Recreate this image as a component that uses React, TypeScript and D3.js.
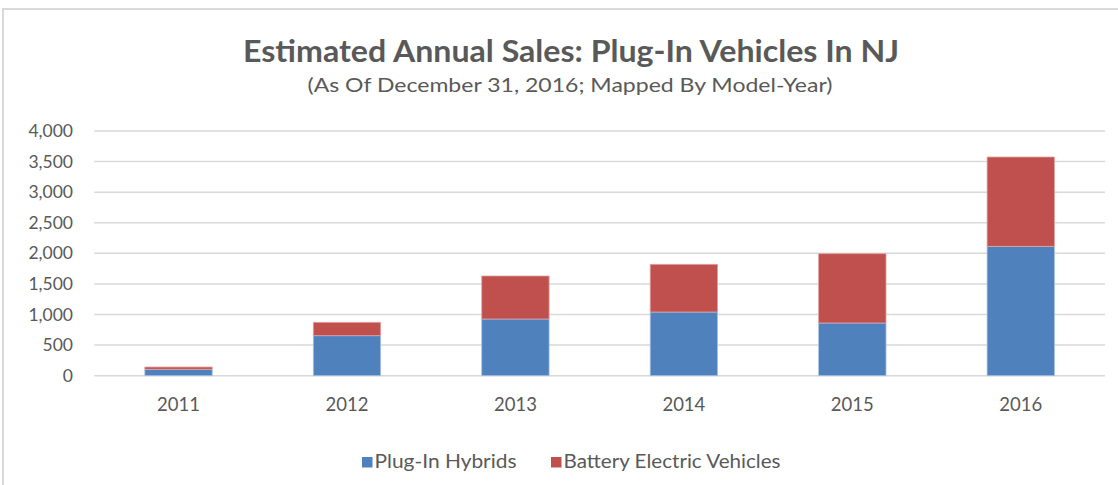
import { useRef, useEffect } from "react";
import * as d3 from "d3";

const years = ["2011", "2012", "2013", "2014", "2015", "2016"];
const plugInHybrids = [105, 654, 927, 1041, 862, 2115];
const batteryElectric = [37, 219, 703, 780, 1132, 1460];
const seriesNames = ["Plug-In Hybrids", "Battery Electric Vehicles"];
const seriesColors = ["#4f81bd", "#c0504d"];
const yTicks = [0, 500, 1000, 1500, 2000, 2500, 3000, 3500, 4000];

export default function App() {
  const svgRef = useRef<SVGSVGElement>(null);

  useEffect(() => {
    if (!svgRef.current) return;
    const svg = d3.select(svgRef.current);
    svg.selectAll("*").remove();
    const width = 1118;
    const height = 485;
    const font = "Lato, 'Open Sans', sans-serif";
    const textColor = "#595959";

    svg.append("rect").attr("width", width).attr("height", height).attr("fill", "white");
    // chart frame (only top and left edges show)
    svg
      .append("path")
      .attr("d", `M3,${height} L3,9 L${width},9`)
      .attr("fill", "none")
      .attr("stroke", "#d9d9d9")
      .attr("stroke-width", 2);

    svg
      .append("text")
      .attr("x", 571)
      .attr("y", 62)
      .attr("text-anchor", "middle")
      .attr("font-family", font)
      .attr("font-weight", "bold")
      .attr("font-size", 30)
      .attr("fill", textColor)
      .attr("textLength", 656)
      .attr("lengthAdjust", "spacingAndGlyphs")
      .text("Estimated Annual Sales: Plug-In Vehicles In NJ");
    svg
      .append("text")
      .attr("x", 570)
      .attr("y", 92)
      .attr("text-anchor", "middle")
      .attr("font-family", font)
      .attr("font-size", 19)
      .attr("fill", textColor)
      .attr("textLength", 525)
      .attr("lengthAdjust", "spacingAndGlyphs")
      .text("(As Of December 31, 2016; Mapped By Model-Year)");

    const x = d3
      .scaleBand()
      .domain(years)
      .range([94.3, 1105])
      .paddingInner(0.6)
      .paddingOuter(0.3);
    const y = d3.scaleLinear().domain([0, 4000]).range([375.7, 131]);

    svg
      .append("g")
      .selectAll("line")
      .data(yTicks)
      .enter()
      .append("line")
      .attr("x1", 94.3)
      .attr("x2", 1105)
      .attr("y1", (d) => y(d))
      .attr("y2", (d) => y(d))
      .attr("stroke", "#d9d9d9")
      .attr("stroke-width", 1.5);

    svg
      .append("g")
      .selectAll("text")
      .data(yTicks)
      .enter()
      .append("text")
      .attr("x", 73)
      .attr("y", (d) => y(d))
      .attr("dy", "0.35em")
      .attr("text-anchor", "end")
      .attr("font-family", font)
      .attr("font-size", 17.5)
      .attr("fill", textColor)
      .text((d) => d3.format(",")(d));

    const rows = years.map((yr, i) => ({
      year: yr,
      phev: plugInHybrids[i],
      bev: batteryElectric[i],
    }));
    const stacked = d3.stack<any>().keys(["phev", "bev"])(rows);

    stacked.forEach((layer, li) => {
      svg
        .append("g")
        .selectAll("rect")
        .data(layer)
        .enter()
        .append("rect")
        .attr("x", (d: any) => x(d.data.year)!)
        .attr("width", x.bandwidth())
        .attr("y", (d) => y(d[1]))
        .attr("height", (d) => y(d[0]) - y(d[1]))
        .attr("fill", seriesColors[li])
        .attr("stroke", li === 0 ? "#a9c2e4" : "#e0a3a2")
        .attr("stroke-width", 0.8);
    });

    svg
      .append("g")
      .selectAll("text")
      .data(years)
      .enter()
      .append("text")
      .attr("x", (d) => x(d)! + x.bandwidth() / 2)
      .attr("y", 405)
      .attr("dy", "0.35em")
      .attr("text-anchor", "middle")
      .attr("font-family", font)
      .attr("font-size", 18.5)
      .attr("fill", textColor)
      .text((d) => d);

    const legendX = [362, 551];
    const legendW = [142, 217];
    seriesNames.forEach((name, i) => {
      svg
        .append("rect")
        .attr("x", legendX[i])
        .attr("y", 457)
        .attr("width", 10.5)
        .attr("height", 10.5)
        .attr("fill", seriesColors[i]);
      svg
        .append("text")
        .attr("x", legendX[i] + 12.5)
        .attr("y", 462)
        .attr("dy", "0.35em")
        .attr("font-family", font)
        .attr("font-size", 18.5)
        .attr("fill", textColor)
        .attr("textLength", legendW[i])
        .attr("lengthAdjust", "spacingAndGlyphs")
        .text(name);
    });
  }, []);

  return (
    <div style={{ position: "absolute", top: 0, left: 0 }}>
      <svg ref={svgRef} width={1118} height={485} style={{ display: "block" }} />
    </div>
  );
}
